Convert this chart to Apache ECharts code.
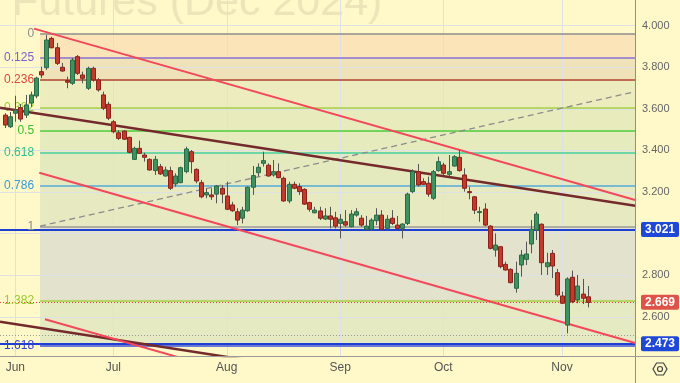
<!DOCTYPE html>
<html><head><meta charset="utf-8">
<script src="https://cdn.jsdelivr.net/npm/echarts@6/dist/echarts.min.js"></script>
<style>html,body{margin:0;padding:0;background:#fff8c9;}#c{width:680px;height:383px;}</style>
</head><body><div id="c"></div>
<script>
// ---- data (trading-day index 0 = May 30, 2024) ----
const opens = [3.570,3.514,3.579,3.606,3.570,3.628,3.662,3.779,3.798,3.939,
3.894,3.800,3.736,3.723,3.851,3.763,3.699,3.795,3.739,3.667,
3.622,3.538,3.485,3.493,3.463,3.357,3.410,3.378,3.357,3.303,
3.322,3.277,3.303,3.239,3.245,3.298,3.394,3.309,3.245,3.186,
3.186,3.190,3.218,3.181,3.138,3.105,3.074,3.110,3.223,3.293,
3.338,3.329,3.282,3.298,3.266,3.157,3.237,3.226,3.213,3.149,
3.100,3.109,3.070,3.085,3.076,3.049,3.057,3.033,3.089,3.074,
3.021,3.021,3.062,3.089,3.025,3.074,3.041,3.025,3.049,3.202,
3.298,3.250,3.242,3.170,3.303,3.330,3.285,3.325,3.367,3.282,
3.202,3.177,3.101,3.118,3.036,2.921,2.937,2.852,2.828,2.737,
2.849,2.876,2.950,3.017,3.045,2.841,2.905,2.812,2.700,2.560,
2.790,2.681,2.709,2.696];
const closes = [3.522,3.562,3.594,3.551,3.619,3.667,3.748,3.763,3.931,3.894,
3.819,3.782,3.728,3.835,3.771,3.747,3.795,3.739,3.691,3.603,
3.555,3.490,3.458,3.454,3.391,3.410,3.386,3.367,3.306,3.357,
3.287,3.306,3.218,3.277,3.317,3.407,3.346,3.253,3.177,3.197,
3.177,3.229,3.190,3.117,3.110,3.065,3.113,3.223,3.279,3.319,
3.351,3.277,3.298,3.269,3.157,3.237,3.218,3.202,3.142,3.117,
3.113,3.074,3.085,3.069,3.036,3.069,3.041,3.094,3.105,3.041,
3.036,3.065,3.089,3.021,3.069,3.049,3.025,3.046,3.190,3.298,
3.234,3.237,3.190,3.298,3.346,3.290,3.298,3.370,3.303,3.218,
3.197,3.113,3.106,3.041,2.929,2.945,2.841,2.825,2.764,2.809,
2.897,2.902,3.021,3.094,2.860,2.860,2.844,2.705,2.665,2.782,
2.672,2.748,2.689,2.669];
const lows = [3.508,3.508,3.538,3.538,3.556,3.610,3.651,3.748,3.787,3.891,
3.811,3.779,3.699,3.715,3.763,3.723,3.691,3.731,3.683,3.594,
3.546,3.482,3.450,3.450,3.386,3.354,3.383,3.346,3.303,3.282,
3.282,3.274,3.210,3.226,3.242,3.290,3.290,3.242,3.170,3.170,
3.162,3.146,3.146,3.113,3.105,3.041,3.049,3.105,3.186,3.274,
3.322,3.274,3.274,3.266,3.153,3.146,3.213,3.186,3.138,3.105,
3.098,3.065,3.065,3.025,3.025,2.977,3.033,3.030,3.081,3.033,
3.017,3.014,3.041,3.017,3.014,3.041,3.021,2.977,3.041,3.194,
3.226,3.234,3.177,3.162,3.298,3.282,3.274,3.322,3.298,3.202,
3.165,3.094,3.057,3.036,2.924,2.889,2.833,2.822,2.761,2.716,
2.793,2.849,2.905,2.969,2.801,2.801,2.786,2.696,2.661,2.520,
2.665,2.665,2.661,2.645];
const highs = [3.579,3.585,3.663,3.623,3.667,3.683,3.755,3.803,3.955,3.947,
3.917,3.821,3.755,3.845,3.859,3.779,3.803,3.803,3.748,3.683,
3.634,3.546,3.498,3.498,3.466,3.418,3.447,3.389,3.362,3.373,
3.335,3.322,3.322,3.290,3.322,3.418,3.402,3.314,3.258,3.218,
3.218,3.234,3.234,3.250,3.153,3.122,3.129,3.226,3.325,3.338,
3.394,3.338,3.354,3.338,3.274,3.250,3.250,3.242,3.218,3.153,
3.129,3.129,3.122,3.129,3.105,3.094,3.113,3.113,3.122,3.089,
3.085,3.074,3.122,3.113,3.089,3.113,3.085,3.049,3.197,3.309,
3.335,3.266,3.274,3.306,3.370,3.341,3.378,3.378,3.402,3.314,
3.226,3.181,3.129,3.146,3.041,3.001,2.940,2.865,2.833,2.865,
2.921,2.961,3.065,3.105,3.049,2.908,2.921,2.830,2.721,2.790,
2.822,2.801,2.782,2.748];

const monthIdx = [2, 21, 43, 65, 85, 108];
const monthNames = ['Jun', 'Jul', 'Aug', 'Sep', 'Oct', 'Nov'];
const yTicks = [2.6, 2.8, 3.2, 3.4, 3.6, 3.8, 4.0];
const yGrid = [2.6, 2.8, 3.0, 3.2, 3.4, 3.6, 3.8, 4.0];

const fibLabels = ['0', '0.125', '0.236', '0.382', '0.5', '0.618', '0.786', '1', '1.382', '1.618'];
const fibPrices = [3.961, 3.845, 3.742, 3.606, 3.497, 3.388, 3.232, 3.033, 2.679, 2.460];
const fibStartIdx = 6.8;

const priceLines = [3.021, 2.473];
const lastPrice = 2.669;
const dottedLevel = 2.512;

const channelUpper = [[5.62, 3.986], [122.2, 3.162]];
const channelLower = [[6.65, 3.293], [122.2, 2.474]];
const channelThird = [[7.76, 2.588], [45, 2.325]];
const brownUpper = [[-0.97, 3.606], [122.2, 3.134]];
const brownLower = [[-0.97, 2.576], [50, 2.380]];
const dashedRise = [[6.79, 3.036], [122.2, 3.683]];

// ---- styles ----
const fibLineColors = ['#8e8e8e','#8a6fd6','#b0402f','#a6cf45','#4ccc3c','#43cfa2','#52aad8','#9a9a9a','#a6cf45','#3d50d8'];
const fibTextColors = ['#8a8a8a','#7c5fd0','#e0453a','#9acb2e','#3cc12c','#2fbf8f','#3a9ad6','#8a8a8a','#9acb2e','#3344cc'];
const bandColors = ['#fbe4b8','#efe2b8','#ececbe','#e8ecbc','#e5ebbd','#e5eabe','#e7e9c1','#e3e2cc','#e6eac3'];
const X_MIN = -0.97, X_MAX = 122.16, Y_MIN = 2.4113, Y_MAX = 4.1236;

const candleData = opens.map((o, i) => [i, o, closes[i], lows[i], highs[i]]);

const bands = [];
for (let i = 0; i < fibPrices.length - 1; i++) {
  bands.push([{ coord: [fibStartIdx, fibPrices[i]], itemStyle: { color: bandColors[i] } },
              { coord: [X_MAX, fibPrices[i + 1]] }]);
}
const gridLines = yGrid.map(v => ({ yAxis: v })).concat(monthIdx.map(v => ({ xAxis: v })));
const fibLines = fibPrices.map((p, i) => [
  { coord: [fibStartIdx, p], lineStyle: { color: fibLineColors[i], width: 1.5, type: 'solid' },
    label: { show: true, position: 'start', distance: 6, formatter: fibLabels[i], color: fibTextColors[i], fontSize: 12, fontFamily: 'Liberation Sans' } },
  { coord: [X_MAX, p] }
]);
const boxLabel = (txt, bg) => ({ show: true, position: 'end', distance: 6, formatter: txt, color: '#fff', backgroundColor: bg,
  padding: [2, 4, 1, 4], fontWeight: 'bold', fontSize: 12, borderRadius: 2, fontFamily: 'Liberation Sans' });
const hLines = [
  { yAxis: priceLines[0], lineStyle: { color: '#1d3fd4', width: 2, type: 'solid' }, label: boxLabel(priceLines[0].toFixed(3), '#1f48d6') },
  { yAxis: priceLines[1], lineStyle: { color: '#1d3fd4', width: 2, type: 'solid' }, label: boxLabel(priceLines[1].toFixed(3), '#1f48d6') },
  { yAxis: lastPrice, lineStyle: { color: '#e0453a', width: 1, type: [1, 2] }, label: boxLabel(lastPrice.toFixed(3), '#dd5348') },
  { yAxis: dottedLevel, lineStyle: { color: '#9a9a9a', width: 1, type: [1, 2] }, label: { show: false } }
];

function trend(data, color, width, type, z) {
  return { type: 'line', data: data, symbol: 'none', silent: true, z: z, clip: true,
           lineStyle: { color: color, width: width, type: type || 'solid' }, animation: false };
}

const chart = echarts.init(document.getElementById('c'), null, { renderer: 'canvas' });
chart.setOption({
  animation: false,
  backgroundColor: '#fff8c9',
  grid: { left: 0, right: 45, top: 0, bottom: 27, containLabel: false },
  xAxis: {
    type: 'value', min: X_MIN, max: X_MAX,
    axisLine: { show: false }, axisTick: { show: false }, splitLine: { show: false },
    axisLabel: { customValues: monthIdx, formatter: v => monthNames[monthIdx.indexOf(v)] || '',
                 color: '#555', fontSize: 12, margin: 6, fontFamily: 'Liberation Sans' }
  },
  yAxis: {
    type: 'value', position: 'right', min: Y_MIN, max: Y_MAX,
    axisLine: { show: false }, axisTick: { show: false }, splitLine: { show: false },
    axisLabel: { customValues: yTicks, formatter: v => v.toFixed(3), color: '#666', fontSize: 11, margin: 7, fontFamily: 'Liberation Sans' }
  },
  graphic: [
    { type: 'text', z: 0, x: 12, y: 3, silent: true,
      style: { text: 'Futures (Dec 2024)', fill: '#ece5ba', font: '43px "Liberation Sans"', verticalAlign: 'middle', align: 'left' } },
    { type: 'line', z: 100, shape: { x1: 635.5, y1: 0, x2: 635.5, y2: 383 }, style: { stroke: '#8f8f8f', lineWidth: 1 } },
    { type: 'line', z: 100, shape: { x1: 0, y1: 356.5, x2: 680, y2: 356.5 }, style: { stroke: '#9a9a9a', lineWidth: 1 } },
    { type: 'polygon', z: 100, shape: { points: [[653, 369], [656.5, 363], [663.5, 363], [667, 369], [663.5, 375], [656.5, 375]] }, style: { fill: 'none', stroke: '#444', lineWidth: 1.2 } },
    { type: 'circle', z: 100, shape: { cx: 660, cy: 369, r: 2.5 }, style: { fill: 'none', stroke: '#444', lineWidth: 1.2 } }
  ],
  series: [
    { type: 'line', data: [], z: 1, silent: true,
      markArea: { silent: true, data: bands } },
    { type: 'line', data: [], z: 2, silent: true,
      markLine: { silent: true, symbol: 'none', animation: false, label: { show: false },
                  lineStyle: { color: '#dde1e6', width: 1, type: 'solid' }, data: gridLines } },
    { type: 'line', data: [], z: 3, silent: true,
      markLine: { silent: true, symbol: 'none', animation: false, data: fibLines } },
    { type: 'line', data: [], z: 4, silent: true,
      markLine: { silent: true, symbol: 'none', animation: false, data: hLines } },
    trend(dashedRise, '#8c8c8c', 1.3, [6, 4], 5),
    trend(brownUpper, '#742a2c', 2.5, 'solid', 5),
    trend(brownLower, '#742a2c', 2.5, 'solid', 5),
    trend(channelUpper, '#f2485c', 2, 'solid', 5),
    trend(channelLower, '#f2485c', 2, 'solid', 5),
    trend(channelThird, '#f2485c', 2, 'solid', 5),
    {
      type: 'custom', z: 10, silent: true, data: candleData,
      encode: { x: 0, y: [1, 2, 3, 4] },
      renderItem: function (params, api) {
        const i = api.value(0), o = api.value(1), c = api.value(2), l = api.value(3), h = api.value(4);
        const pO = api.coord([i, o]), pC = api.coord([i, c]), pL = api.coord([i, l]), pH = api.coord([i, h]);
        const cx = Math.round(pO[0]) + 0.5;
        const up = c >= o;
        const top = Math.min(pO[1], pC[1]), bot = Math.max(pO[1], pC[1]);
        return { type: 'group', children: [
          { type: 'line', shape: { x1: cx, y1: pH[1], x2: cx, y2: pL[1] }, style: { stroke: '#555', lineWidth: 1 } },
          { type: 'rect', shape: { x: cx - 2, y: top, width: 4, height: Math.max(bot - top, 1) },
            style: { fill: up ? '#3f9160' : '#c23a2c', stroke: up ? '#2a6b46' : '#8c2219', lineWidth: 1 } }
        ] };
      }
    }
  ]
});
</script></body></html>
